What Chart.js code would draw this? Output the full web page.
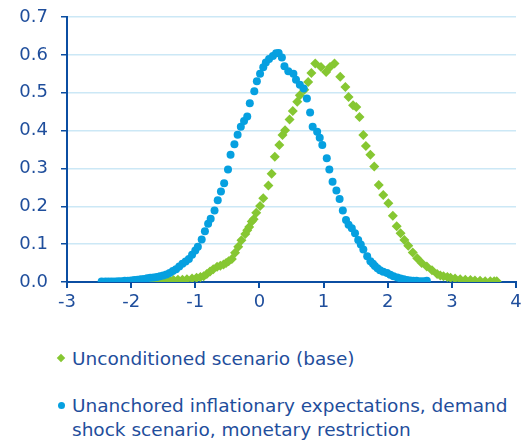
<!DOCTYPE html>
<html>
<head>
<meta charset="utf-8">
<script src="https://cdn.jsdelivr.net/npm/chart.js@4.4.1/dist/chart.umd.min.js"></script>
<style>
  body { margin: 0; background: #fff; width: 521px; height: 441px; overflow: hidden; position: relative; }
  #wrap { position: absolute; left: 0; top: 0; width: 521px; height: 310px; }
  .leg { position: absolute; left: 72px; font-family: 'DejaVu Sans', Verdana, sans-serif; font-size: 18.5px; color: #1f4e9c; line-height: 24px; white-space: nowrap; }
  .mk { position: absolute; }
</style>
</head>
<body>
<div id="wrap"><canvas id="chart" width="521" height="310"></canvas></div>

<div class="mk" style="left:58px;top:355px;width:6px;height:6px;background:#86c732;transform:rotate(45deg);"></div>
<div class="leg" style="top:347px;">Unconditioned scenario (base)</div>

<div class="mk" style="left:58px;top:402px;width:7px;height:7px;border-radius:50%;background:#06a0e0;"></div>
<div class="leg" style="top:394px;">Unanchored inflationary expectations, demand<br>shock scenario, monetary restriction</div>

<script>
// Escenario base (verde)
const baseX = [-1.93, -1.85, -1.76, -1.68, -1.60, -1.55, -1.48, -1.40, -1.34, -1.27, -1.20, -1.13, -1.05, -0.98, -0.92, -0.87,
  -0.82, -0.77, -0.72, -0.66, -0.61, -0.56, -0.52, -0.48, -0.43, -0.38, -0.33, -0.28, -0.22, -0.19, -0.16, -0.12, -0.09,
  -0.05, 0.01, 0.06, 0.14, 0.19, 0.24, 0.31, 0.36, 0.40, 0.47, 0.52, 0.59, 0.63, 0.70, 0.76, 0.81, 0.87, 0.96, 1.04, 1.10,
  1.17, 1.26, 1.34, 1.39, 1.46, 1.51, 1.56, 1.62, 1.66, 1.73, 1.79, 1.86, 1.93, 2.01, 2.08, 2.14, 2.20, 2.26, 2.32, 2.39,
  2.46, 2.53, 2.61, 2.69, 2.77, 2.82, 2.87, 2.93, 2.98, 3.05, 3.13, 3.21, 3.29, 3.36, 3.44, 3.52, 3.60, 3.66, 3.70];
const baseY = [0.001, 0.001, 0.001, 0.002, 0.002, 0.002, 0.003, 0.004, 0.005, 0.006, 0.006, 0.007, 0.009, 0.011, 0.013, 0.015,
  0.021, 0.028, 0.034, 0.040, 0.043, 0.046, 0.050, 0.055, 0.061, 0.077, 0.093, 0.110, 0.127, 0.137, 0.145, 0.160, 0.166,
  0.183, 0.201, 0.221, 0.255, 0.286, 0.331, 0.362, 0.388, 0.401, 0.429, 0.452, 0.476, 0.493, 0.508, 0.528, 0.552, 0.577, 0.568, 0.555, 0.568,
  0.577, 0.542, 0.515, 0.489, 0.467, 0.462, 0.436, 0.388, 0.359, 0.336, 0.305, 0.256, 0.230, 0.208, 0.175, 0.147, 0.129, 0.111, 0.096, 0.078,
  0.063, 0.050, 0.041, 0.031, 0.021, 0.017, 0.015, 0.013, 0.011, 0.009, 0.007, 0.006, 0.005, 0.004, 0.003, 0.002, 0.002, 0.002, 0.002];

// Escenario de expectativas desancladas (azul)
const shockX = [-2.46, -2.40, -2.35, -2.30, -2.25, -2.20, -2.15, -2.10, -2.05, -2.00, -1.95, -1.90, -1.85, -1.80, -1.75, -1.70,
  -1.65, -1.60, -1.55, -1.50, -1.45, -1.40, -1.35, -1.30, -1.25, -1.20, -1.15, -1.10, -1.05, -1.00, -0.96, -0.90, -0.85,
  -0.80, -0.76, -0.70, -0.65, -0.60, -0.55, -0.49, -0.45, -0.39, -0.34, -0.29, -0.24, -0.19, -0.15, -0.08, -0.04, 0.01,
  0.06, 0.10, 0.15, 0.21, 0.26, 0.30, 0.35, 0.39, 0.45, 0.53, 0.57, 0.63, 0.69, 0.74, 0.79, 0.83, 0.90, 0.94, 0.98, 1.05,
  1.09, 1.14, 1.20, 1.25, 1.30, 1.35, 1.39, 1.44, 1.49, 1.54, 1.58, 1.62, 1.68, 1.73, 1.77, 1.80, 1.84, 1.88, 1.93, 1.99,
  2.04, 2.09, 2.15, 2.20, 2.25, 2.30, 2.35, 2.40, 2.45, 2.51, 2.56, 2.61];
const shockY = [0.001, 0.001, 0.001, 0.001, 0.001, 0.002, 0.002, 0.003, 0.003, 0.004, 0.005, 0.006, 0.007, 0.008, 0.010, 0.011,
  0.012, 0.013, 0.015, 0.017, 0.020, 0.024, 0.029, 0.034, 0.041, 0.048, 0.054, 0.061, 0.072, 0.083, 0.093, 0.112, 0.134,
  0.154, 0.167, 0.189, 0.216, 0.239, 0.261, 0.297, 0.336, 0.364, 0.389, 0.410, 0.425, 0.437, 0.472, 0.504, 0.530, 0.550,
  0.567, 0.580, 0.589, 0.597, 0.604, 0.605, 0.593, 0.570, 0.557, 0.550, 0.534, 0.521, 0.511, 0.485, 0.448, 0.410, 0.397, 0.381, 0.362, 0.327,
  0.297, 0.265, 0.242, 0.219, 0.189, 0.164, 0.151, 0.142, 0.129, 0.111, 0.099, 0.086, 0.068, 0.055, 0.048, 0.042, 0.036, 0.031, 0.027, 0.024,
  0.019, 0.015, 0.012, 0.009, 0.007, 0.005, 0.004, 0.003, 0.003, 0.002, 0.002, 0.003];

const xTicks = [-3, -2, -1, 0, 1, 2, 3, 4];
const yTicks = [0, 0.1, 0.2, 0.3, 0.4, 0.5, 0.6, 0.7];

const toPoints = (xs, ys) => xs.map((x, i) => ({ x: x, y: ys[i] }));

const axisColor = '#0b4ea2';
const textColor = '#1f4e9c';
const tickFont = { family: "'DejaVu Sans', Verdana, sans-serif", size: 18 };

new Chart(document.getElementById('chart'), {
  type: 'scatter',
  data: {
    datasets: [
      {
        label: 'Unanchored inflationary expectations, demand shock scenario, monetary restriction',
        data: toPoints(shockX, shockY),
        pointStyle: 'circle',
        pointRadius: 4,
        pointBorderWidth: 0,
        backgroundColor: '#06a0e0'
      },
      {
        label: 'Unconditioned scenario (base)',
        data: toPoints(baseX, baseY),
        pointStyle: 'rectRot',
        pointRadius: 5,
        pointBorderWidth: 0,
        backgroundColor: '#86c732'
      }
    ]
  },
  options: {
    responsive: false,
    animation: false,
    layout: { padding: { top: 17, right: 0, left: 0, bottom: 0 } },
    plugins: { legend: { display: false }, tooltip: { enabled: false } },
    scales: {
      x: {
        type: 'linear',
        min: xTicks[0],
        max: xTicks[xTicks.length - 1],
        afterBuildTicks: s => { s.ticks = xTicks.map(v => ({ value: v })); },
        afterFit: s => { s.height = 28; s.paddingLeft = 0; s.paddingRight = 5; },
        ticks: { color: textColor, font: tickFont, padding: 4, callback: v => String(v) },
        grid: { drawOnChartArea: false, tickLength: 6, tickColor: axisColor, lineWidth: 2 },
        border: { color: axisColor, width: 2 }
      },
      y: {
        min: yTicks[0],
        max: yTicks[yTicks.length - 1],
        afterBuildTicks: s => { s.ticks = yTicks.map(v => ({ value: v })); },
        afterFit: s => { s.width = 67; s.paddingTop = 0; s.paddingBottom = 0; },
        ticks: { color: textColor, font: tickFont, padding: 13, callback: v => v.toFixed(1) },
        grid: { color: '#cce8f6', tickColor: axisColor, tickLength: 6, lineWidth: 1.5 },
        border: { color: axisColor, width: 2 }
      }
    }
  }
});
</script>
</body>
</html>
